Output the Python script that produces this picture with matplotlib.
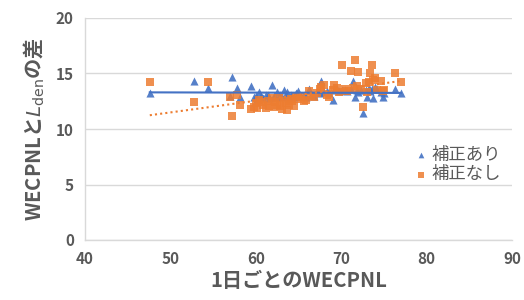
import numpy as np
import matplotlib
matplotlib.use("Agg")
import matplotlib.pyplot as plt

plt.rcParams['font.family'] = ['Noto Sans CJK JP', 'DejaVu Sans']

x_wecpnl = [47.6, 52.8, 54.4, 57.0, 57.2, 57.8, 58.2, 59.5, 59.8, 60.0, 60.2, 60.4, 60.6, 60.9,
            61.2, 61.4, 61.6, 61.9, 62.1, 62.3, 62.5, 62.7, 62.9, 63.1, 63.3, 63.5, 63.7, 63.9,
            64.1, 64.3, 64.5, 64.7, 65.0, 65.3, 65.6, 65.9, 66.2, 66.5, 66.8, 67.2, 67.5, 67.7,
            68.0, 68.3, 68.6, 69.0, 69.2, 69.5, 69.8, 70.1, 70.4, 70.7, 71.1, 71.4, 71.6, 71.9,
            72.0, 72.3, 72.6, 72.9, 73.0, 73.3, 73.4, 73.6, 73.7, 74.0, 74.2, 74.7, 74.9, 75.0,
            76.3, 77.0]
diff_corrected = [13.2, 14.3, 13.7, 13.0, 14.65, 13.7, 12.9, 13.9, 12.9, 13.0, 12.7, 13.3, 13.0, 12.8,
                  13.1, 13.1, 12.8, 14.0, 13.0, 12.9, 13.3, 13.0, 13.1, 12.9, 13.5, 13.0, 13.3, 12.8,
                  13.1, 13.0, 12.9, 13.2, 13.4, 13.0, 13.1, 12.9, 13.6, 13.1, 13.0, 13.3, 13.2, 14.3,
                  13.3, 13.4, 13.2, 12.6, 13.5, 13.6, 13.4, 13.5, 13.5, 13.4, 13.6, 14.3, 12.9, 13.5,
                  13.3, 13.5, 11.4, 13.5, 12.9, 13.7, 13.4, 13.6, 12.8, 13.8, 13.6, 13.3, 12.9, 13.2,
                  13.6, 13.2]
diff_uncorrected = [14.2, 12.4, 14.2, 12.9, 11.2, 13.1, 12.2, 11.8, 12.0, 12.3, 11.9, 12.6, 12.4, 12.2,
                    11.9, 12.5, 12.1, 12.8, 12.0, 12.4, 12.2, 12.8, 12.1, 11.8, 12.5, 12.3, 11.7, 12.2,
                    12.7, 12.5, 12.1, 13.0, 12.7, 12.9, 12.5, 12.6, 13.4, 13.0, 12.9, 13.2, 13.6, 13.8,
                    14.0, 13.1, 12.9, 13.5, 14.0, 13.7, 13.3, 15.8, 13.6, 13.4, 15.2, 13.7, 16.2, 13.9,
                    15.1, 13.6, 12.0, 14.1, 13.3, 14.2, 15.0, 15.8, 14.4, 14.6, 13.5, 14.3, 13.4, 13.5,
                    15.0, 14.2]
labels = ['補正あり', '補正なし']
xticks = [40, 50, 60, 70, 80, 90]
yticks = [0, 5, 10, 15, 20]

blue = '#4472C4'
orange = '#ED7D31'
grey = '#595959'

fig = plt.figure(figsize=(5.24, 3.0), dpi=100)
ax = fig.add_axes([0.162, 0.2, 0.815, 0.74])

x = np.array(x_wecpnl)
yb = np.array(diff_corrected)
yo = np.array(diff_uncorrected)

ax.scatter(x, yb, marker='^', s=34, color=blue, alpha=0.9, linewidths=0, label=labels[0], zorder=3)
ax.scatter(x, yo, marker='s', s=30, color=orange, alpha=0.85, linewidths=0, label=labels[1], zorder=4)

xs = np.array([x.min(), x.max()])
pb = np.polyfit(x, yb, 1)
po = np.polyfit(x, yo, 1)
ax.plot(xs, np.polyval(pb, xs), color=blue, lw=1.5, zorder=5)
ax.plot(xs, np.polyval(po, xs), color=orange, lw=1.5, ls=(0, (1, 1.5)), zorder=5)

ax.set_xlim(40, 90)
ax.set_ylim(0, 20)
ax.set_xticks(xticks)
ax.set_yticks(yticks)
ax.grid(axis='y', color='#D9D9D9', lw=1)
ax.set_axisbelow(True)
for s in ['top', 'right']:
    ax.spines[s].set_visible(False)
for s in ['left', 'bottom']:
    ax.spines[s].set_color('#D9D9D9')
    ax.spines[s].set_linewidth(1)
ax.tick_params(length=0, labelsize=11, labelcolor=grey, pad=8)
for t in ax.get_xticklabels() + ax.get_yticklabels():
    t.set_fontweight('bold')

ax.set_xlabel('1日ごとのWECPNL', fontsize=14.5, color=grey, fontweight='bold', labelpad=2)
ax.set_ylabel(r'WECPNLと$L_{\mathrm{den}}$の差', fontsize=14.5, color=grey, fontweight='bold', labelpad=6)

leg = ax.legend(loc='center left', bbox_to_anchor=(0.77, 0.34), frameon=False, fontsize=12.5,
                handletextpad=0.2, handlelength=0.8, labelspacing=0.1, markerscale=0.7,
                borderaxespad=0, borderpad=0)
for t in leg.get_texts():
    t.set_color(grey)

fig.savefig('out.png', dpi=100)
